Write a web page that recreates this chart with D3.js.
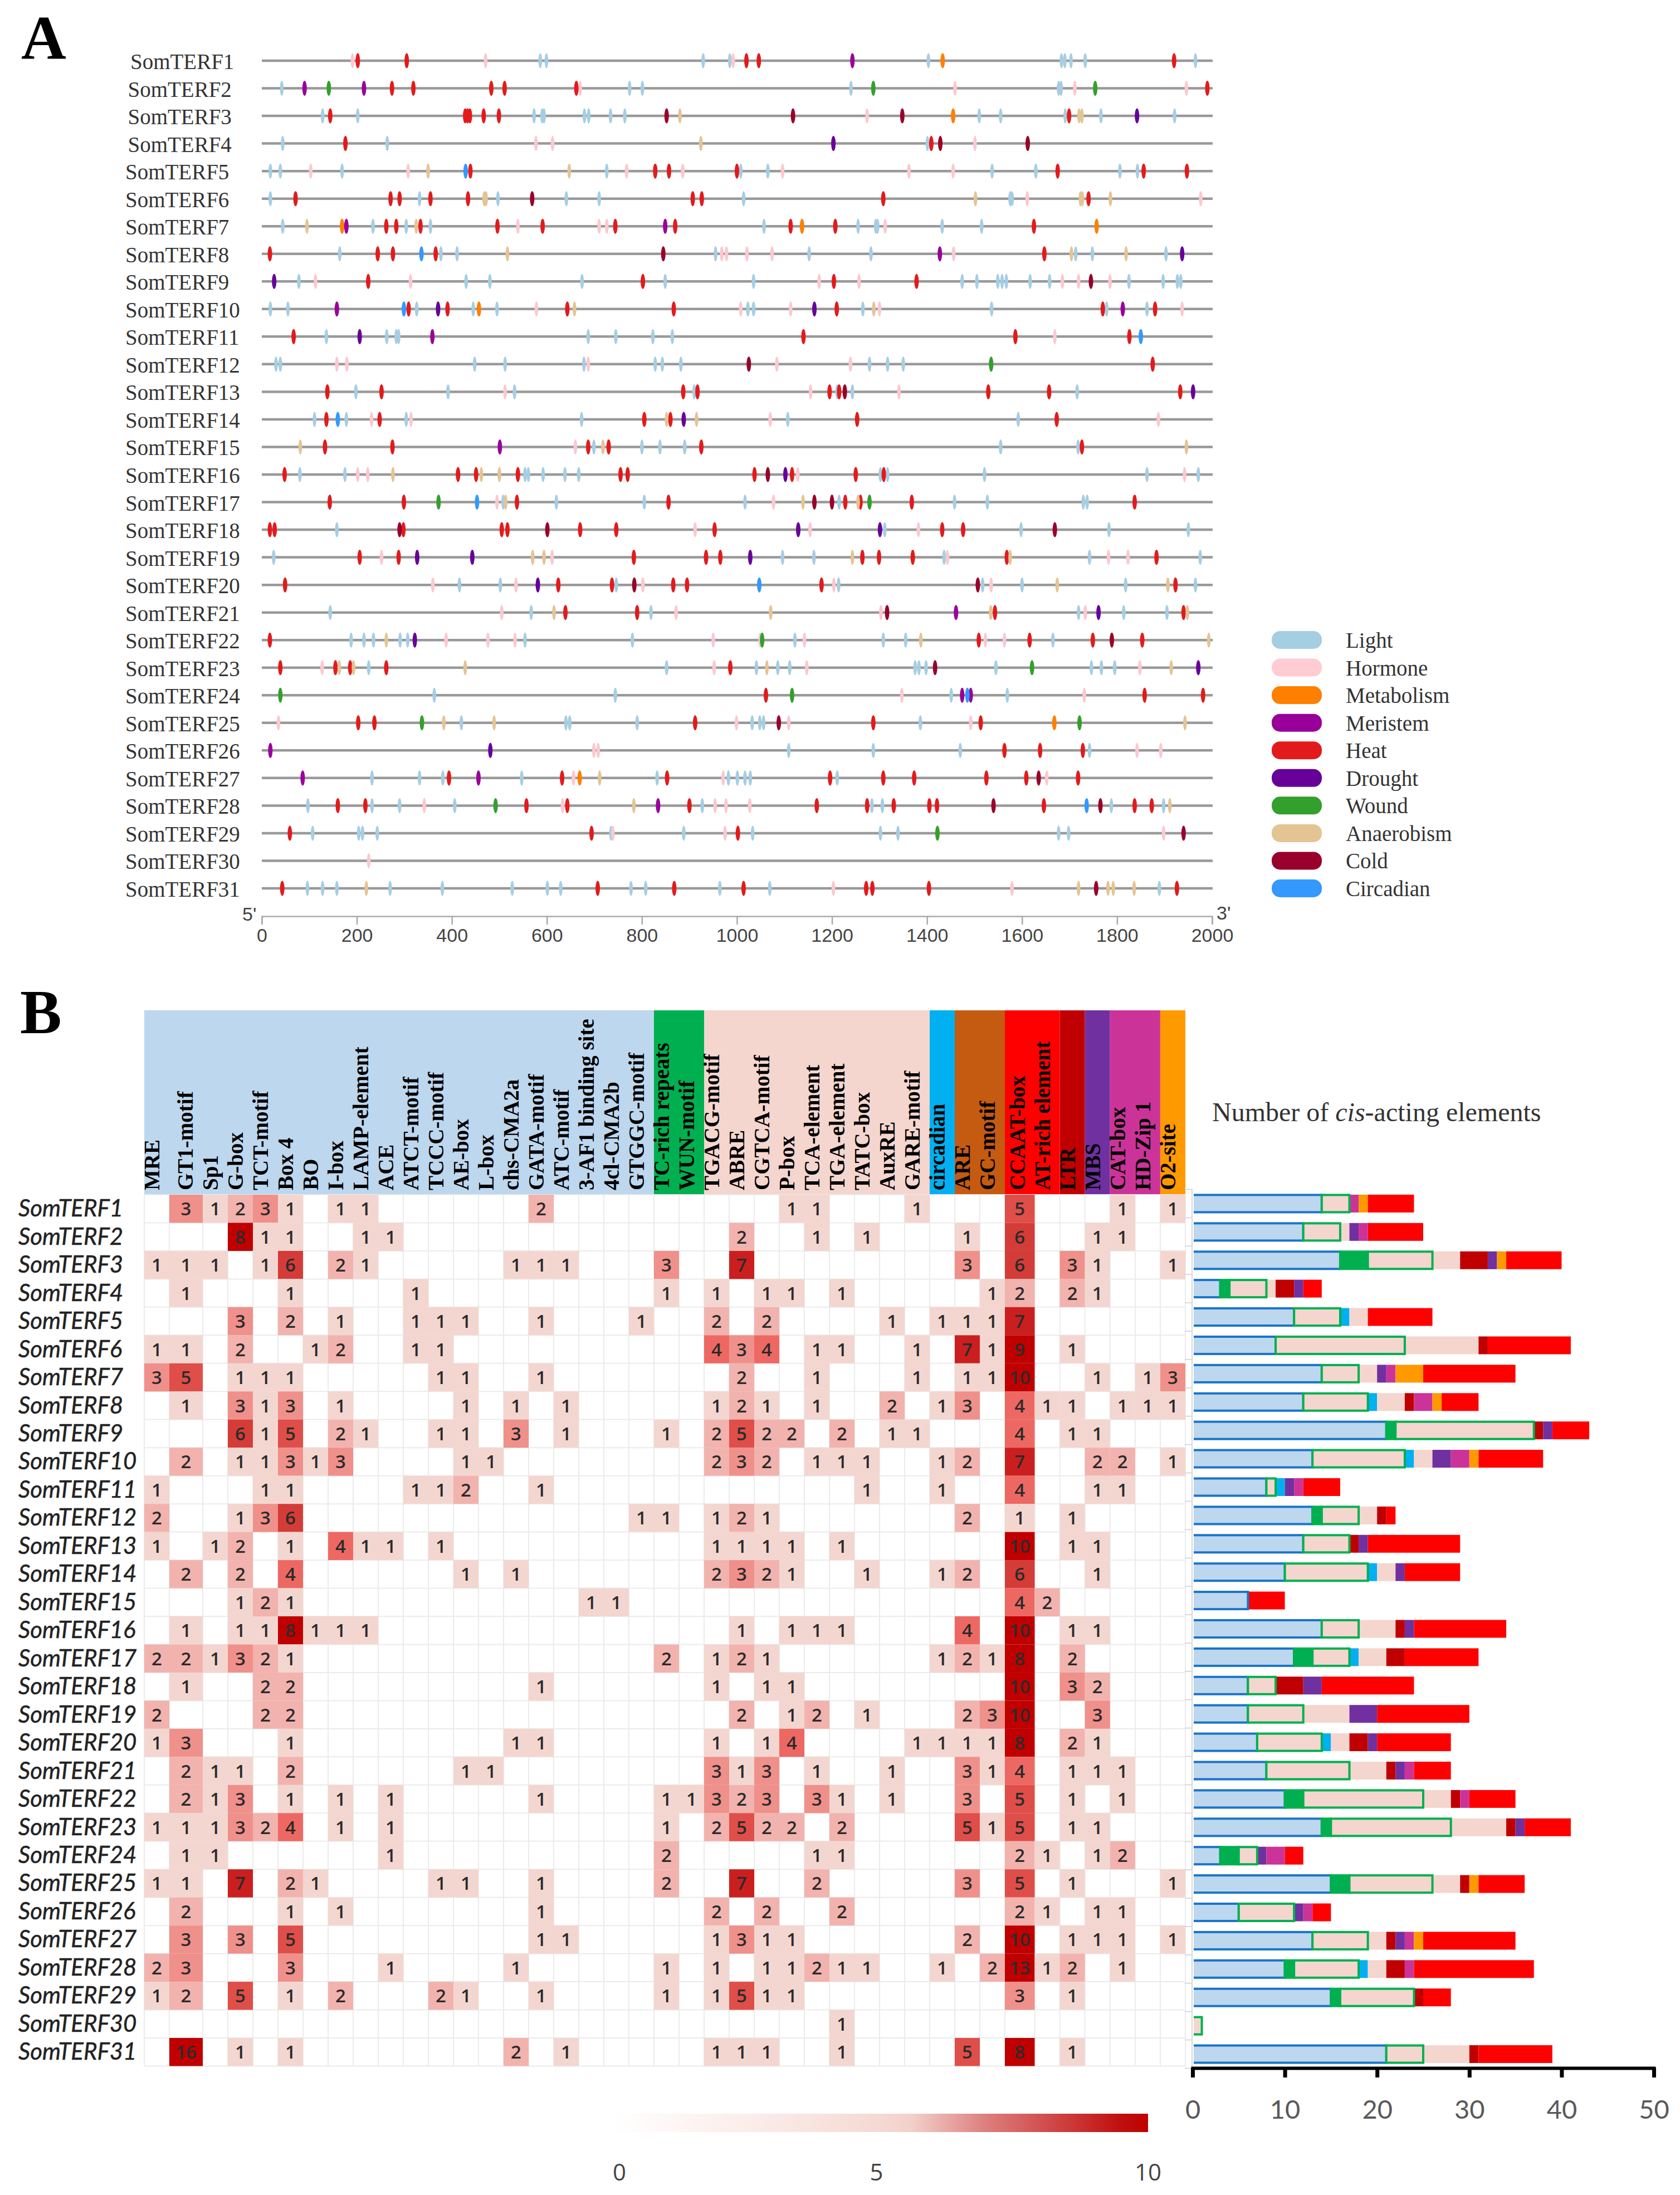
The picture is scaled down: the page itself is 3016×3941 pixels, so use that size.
<!DOCTYPE html>
<html><head><meta charset="utf-8">
<script src="https://cdn.jsdelivr.net/npm/d3@7"></script>
<style>html,body{margin:0;padding:0;background:#fff}svg{display:block}</style>
</head><body><svg id="c" width="3016" height="3941" viewBox="0 0 3016 3941"></svg>
<script>
const genes = d3.range(1,32).map(i=>"SomTERF"+i);

// Panel A: element kinds
const siteKinds = ["L","H","M","S","T","D","W","A","C","R"];
const siteNames = ["Light","Hormone","Metabolism","Meristem","Heat","Drought","Wound","Anaerobism","Cold","Circadian"];
const siteColors = ["#a6cee3","#fcc8d0","#ff7f00","#990099","#e31a1c","#660099","#33a02c","#e5c494","#99002b","#3399ff"];
const axisTicks = [0,200,400,600,800,1000,1200,1400,1600,1800,2000];

// Panel A: positions on the promoter, one entry per gene
const promoterSites = [
{L:[586,599,929,985,1403,1683,1690,1703,1733,1965],H:[191,471,992],M:[1433],S:[1243],T:[202,305,1020,1046,1920]},
{L:[42,774,801,1240,1677,1682],H:[670,1459,1711,1946],S:[90,215],T:[274,319,483,511,662,1990],W:[141,1287,1754]},
{L:[128,202,573,590,594,679,688,734,764,1510,1555,1691,1766,1921],H:[1274],M:[1455],T:[144,428,433,438,467,499,1699],A:[880,1720,1726],C:[852,1118,1348],D:[1842]},
{L:[44,264,1401],H:[577,612,1501],T:[176,1409],A:[924],C:[1428,1612],D:[1203]},
{L:[18,39,169,726,1008,1065,1537,1629,1806,1843],H:[103,308,768,886,1096,1362,1455],T:[439,828,857,1000,1675,1856,1947],A:[350,647],R:[429]},
{L:[18,332,497,641,710,1014,1575,1579],H:[1611,1976],T:[71,271,290,355,434,907,926,1308,1740],A:[468,472,1502,1723,1727,1786],C:[569]},
{L:[44,234,304,355,1057,1255,1292,1296,1432,1515],H:[539,710,726,1312],M:[169,1137,1757],S:[178,849],T:[262,283,334,496,591,744,870,1113,1207,1625],A:[95,325]},
{L:[164,377,411,955,1152,1282,1713,1748,1903],H:[968,978,1021,1074,1456],S:[1427],T:[17,244,276,366,1647],D:[1937],A:[517,1704,1819],C:[845],R:[336]},
{L:[78,430,480,674,849,1035,1474,1505,1549,1558,1567,1617,1658,1825,1897,1927,1934],H:[113,313,1173,1257,1685,1719,1785],T:[224,802,1204,1378],D:[26],C:[1745]},
{L:[18,55,326,445,495,1023,1035,1265,1536,1778,1863],H:[578,1008,1113,1300,1937],M:[457],S:[158,1812],D:[371,1163],T:[309,391,643,867,1210,1770,1880],A:[658,1288],R:[299]},
{L:[136,263,283,288,687,745,823,864],H:[1669],T:[67,1140,1586,1826],D:[206],S:[359],R:[1850]},
{L:[30,39,448,512,678,828,843,882,1279,1317,1350],H:[158,179,687,1084,1239],T:[1875],C:[1025],W:[1535]},
{L:[198,392,532,910,1211,1243,1716],H:[512,1155,1341],T:[138,252,887,917,1195,1215,1529,1657,1933],C:[1227],D:[1960]},
{L:[111,178,304,673,1107,1592],H:[231,314,1070,1887],T:[136,248,805,860,1253,1673],D:[888],A:[852,915],R:[160]},
{L:[699,800,838,890,1555,1718],H:[660],T:[133,275,687,730,925,1726],S:[501],A:[81,718,1946]},
{L:[80,175,554,561,592,638,667,1302,1317,1521,1863,1971],H:[202,223,1128,1942],T:[48,413,451,539,755,770,1037,1116,1250,1309],D:[1102],C:[1065],A:[276,462,500]},
{L:[508,620,805,1017,1215,1458,1527,1729,1737],H:[495,1077],T:[143,299,537,856,1228,1260,1368,1837],W:[372,1279],A:[513,1139,1255],C:[1163,1200],R:[453]},
{L:[158,1311,1598,1783,1950],H:[912,1154,1382],T:[17,27,298,505,517,670,746,953,1432,1476],C:[290,601,1669],D:[1129,1301]},
{L:[25,1096,1162,1436,1742,1975],H:[252,611,1443,1782,1823],T:[206,288,783,935,965,1264,1299,1370,1568,1883],D:[327,443,1028],A:[570,594,1243,1575]},
{L:[416,502,746,1214,1517,1600,1818,1965],H:[360,535,802,1204,1535],T:[49,624,737,866,895,1178,1923],D:[581],C:[784,1507],A:[1674,1907],R:[1047]},
{L:[144,567,819,1719,1814,1905],H:[505,872,1303,1733],S:[1461],T:[639,790,1543,1940],D:[1761],C:[1316],A:[615,1071,1534,1948]},
{L:[188,215,235,291,307,554,780,1122,1308,1355,1665],H:[388,476,533,950,1049,1142,1523,1563],T:[17,1509,1616,1749,1853],D:[322],W:[1053],C:[1789],A:[262,1387,1993]},
{L:[225,852,1041,1086,1111,1375,1383,1398,1545,1746,1767,1795],H:[127,952,1147,1848],T:[39,155,186,262,986],W:[1621],A:[163,193,428,1063,1914],C:[1417],D:[1971]},
{L:[363,744,1451,1569],H:[1347,1731],T:[1061,1858,1981],S:[1474,1492],W:[39,1116],R:[1485]},
{L:[420,640,648,790,1032,1048,1056,1386],H:[35,999,1109,1492],M:[1668],T:[203,237,912,1287,1513],W:[337,1721],A:[383,489,1943],C:[1088]},
{L:[1109,1287,1470,1742],H:[699,708,1842,1892],T:[1563,1638,1728],S:[18],D:[481]},
{L:[232,332,381,547,832,982,1001,1017,1028,1211],H:[656,971,1652],M:[669],S:[86,456],T:[394,632,853,1196,1308,1373,1525,1609,1718],C:[1635],A:[711]},
{L:[97,232,290,406,927,1284,1306,1788,1898],H:[342,633,954,977,1027],S:[834],T:[160,218,557,643,900,1168,1274,1330,1405,1421,1646,1837,1873],C:[1540,1765],W:[492],A:[783,1911],R:[1736]},
{L:[107,204,212,243,735,888,1033,1302,1339,1677,1698],H:[739,975,1898],T:[59,694,1002],W:[1422],C:[1940]},
{H:[225]},
{L:[96,128,158,270,380,527,601,629,777,808,964,1069,1889],H:[1203,1579],T:[43,707,868,1014,1272,1285,1404,1926],C:[1756],A:[220,1719,1781,1792,1836]}
];

// Panel B: motifs
const motifs = ["MRE","GT1-motif","Sp1","G-box","TCT-motif","Box 4","BO","I-box","LAMP-element","ACE","ATCT-motif","TCCC-motif","AE-box","L-box","chs-CMA2a","GATA-motif","ATC-motif","3-AF1 binding site","4cl-CMA2b","GTGGC-motif","TC-rich repeats","WUN-motif","TGACG-motif","ABRE","CGTCA-motif","P-box","TCA-element","TGA-element","TATC-box","AuxRE","GARE-motif","circadian","ARE","GC-motif","CCAAT-box","AT-rich element","LTR","MBS","CAT-box","HD-Zip 1","O2-site"];
const motifGroups = [
 {name:"light",from:0,to:20,color:"#bdd7ee"},
 {name:"wound",from:20,to:22,color:"#00b050"},
 {name:"hormone",from:22,to:31,color:"#f4d6cf"},
 {name:"circadian",from:31,to:32,color:"#00b0f0"},
 {name:"anaerobic",from:32,to:34,color:"#c55a11"},
 {name:"promoter",from:34,to:36,color:"#ff0000"},
 {name:"cold",from:36,to:37,color:"#c00000"},
 {name:"drought",from:37,to:38,color:"#7030a0"},
 {name:"meristem",from:38,to:40,color:"#cc3399"},
 {name:"oxygen",from:40,to:41,color:"#ff9900"}
];
// counts[gene][motif index]; empty cells are left out
const counts = [
{1:3,2:1,3:2,4:3,5:1,7:1,8:1,15:2,25:1,26:1,30:1,34:5,38:1,40:1},
{3:8,4:1,5:1,8:1,9:1,23:2,26:1,28:1,32:1,34:6,37:1,38:1},
{0:1,1:1,2:1,4:1,5:6,7:2,8:1,14:1,15:1,16:1,20:3,23:7,32:3,34:6,36:3,37:1,40:1},
{1:1,5:1,10:1,20:1,22:1,24:1,25:1,27:1,33:1,34:2,36:2,37:1},
{3:3,5:2,7:1,10:1,11:1,12:1,15:1,19:1,22:2,24:2,29:1,31:1,32:1,33:1,34:7},
{0:1,1:1,3:2,6:1,7:2,10:1,11:1,22:4,23:3,24:4,26:1,27:1,30:1,32:7,33:1,34:9,36:1},
{0:3,1:5,3:1,4:1,5:1,11:1,12:1,15:1,23:2,26:1,30:1,32:1,33:1,34:10,37:1,39:1,40:3},
{1:1,3:3,4:1,5:3,7:1,12:1,14:1,16:1,22:1,23:2,24:1,26:1,29:2,31:1,32:3,34:4,35:1,36:1,38:1,39:1,40:1},
{3:6,4:1,5:5,7:2,8:1,11:1,12:1,14:3,16:1,20:1,22:2,23:5,24:2,25:2,27:2,29:1,30:1,34:4,36:1,37:1},
{1:2,3:1,4:1,5:3,6:1,7:3,12:1,13:1,22:2,23:3,24:2,26:1,27:1,28:1,31:1,32:2,34:7,37:2,38:2,40:1},
{0:1,4:1,5:1,10:1,11:1,12:2,15:1,28:1,31:1,34:4,37:1,38:1},
{0:2,3:1,4:3,5:6,19:1,20:1,22:1,23:2,24:1,32:2,34:1,36:1},
{0:1,2:1,3:2,5:1,7:4,8:1,9:1,11:1,22:1,23:1,24:1,25:1,27:1,34:10,36:1,37:1},
{1:2,3:2,5:4,12:1,14:1,22:2,23:3,24:2,25:1,28:1,31:1,32:2,34:6,37:1},
{3:1,4:2,5:1,17:1,18:1,34:4,35:2},
{1:1,3:1,4:1,5:8,6:1,7:1,8:1,23:1,25:1,26:1,27:1,32:4,34:10,36:1,37:1},
{0:2,1:2,2:1,3:3,4:2,5:1,20:2,22:1,23:2,24:1,31:1,32:2,33:1,34:8,36:2},
{1:1,4:2,5:2,15:1,22:1,24:1,25:1,34:10,36:3,37:2},
{0:2,4:2,5:2,23:2,25:1,26:2,28:1,32:2,33:3,34:10,37:3},
{0:1,1:3,5:1,14:1,15:1,22:1,24:1,25:4,30:1,31:1,32:1,33:1,34:8,36:2,37:1},
{1:2,2:1,3:1,5:2,12:1,13:1,22:3,23:1,24:3,26:1,29:1,32:3,33:1,34:4,36:1,37:1,38:1},
{1:2,2:1,3:3,5:1,7:1,9:1,15:1,20:1,21:1,22:3,23:2,24:3,26:3,27:1,29:1,32:3,34:5,36:1,38:1},
{0:1,1:1,2:1,3:3,4:2,5:4,7:1,9:1,20:1,22:2,23:5,24:2,25:2,27:2,32:5,33:1,34:5,36:1,37:1},
{1:1,2:1,9:1,20:2,26:1,27:1,34:2,35:1,37:1,38:2},
{0:1,1:1,3:7,5:2,6:1,11:1,12:1,15:1,20:2,23:7,26:2,32:3,34:5,36:1,40:1},
{1:2,5:1,7:1,15:1,22:2,24:2,27:2,34:2,35:1,37:1,38:1},
{1:3,3:3,5:5,15:1,16:1,22:1,23:3,24:1,25:1,32:2,34:10,36:1,37:1,38:1,40:1},
{0:2,1:3,5:3,9:1,14:1,20:1,22:1,24:1,25:1,26:2,27:1,28:1,31:1,33:2,34:13,35:1,36:2,38:1},
{0:1,1:2,3:5,5:1,7:2,11:2,12:1,15:1,20:1,22:1,23:5,24:1,25:1,34:3,36:1},
{27:1},
{1:16,3:1,5:1,14:2,16:1,22:1,23:1,24:1,27:1,32:5,34:8,36:1}
];
// Panel B bar segments: motif index ranges summed per gene (AT-rich is not counted in the bars)
const barSegments = [
 {key:"light",from:0,to:20,fill:"#bdd7ee",stroke:"#1a75c9"},
 {key:"wound",from:20,to:22,fill:"#00b050",stroke:"#00b050"},
 {key:"hormone",from:22,to:31,fill:"#f4d6cf",stroke:"#00b050"},
 {key:"circadian",from:31,to:32,fill:"#00b0f0"},
 {key:"anaerobic",from:32,to:34,fill:"#f4d6cf"},
 {key:"cold",from:36,to:37,fill:"#c00000"},
 {key:"drought",from:37,to:38,fill:"#7030a0"},
 {key:"meristem",from:38,to:40,fill:"#cc3399"},
 {key:"oxygen",from:40,to:41,fill:"#ff9900"},
 {key:"ccaat",from:34,to:35,fill:"#ff0000"}
];
const barTicks = [0,10,20,30,40,50];
const heatLegendTicks = [0,5,10];

const svg = d3.select("#c");
const serif = "'Liberation Serif','Times New Roman',serif";
const lato = "Lato,sans-serif";
const sans = "'Open Sans',sans-serif";

svg.append("text").attr("x",38).attr("y",106).attr("font-family",serif).attr("font-weight",700).attr("font-size",112).attr("fill","#000").text("A");
svg.append("text").attr("x",36).attr("y",1855).attr("font-family",serif).attr("font-weight",700).attr("font-size",112).attr("fill","#000").text("B");

// ---------- Panel A ----------
const xA = d3.scaleLinear().domain([0,2000]).range([470,2176]);
const yA = d3.scalePoint().domain(genes).range([109,1595]);
const colorA = d3.scaleOrdinal().domain(siteKinds).range(siteColors);
const gA = svg.append("g");
const rowsA = gA.selectAll("g.row").data(genes).join("g").attr("class","row")
  .attr("transform",d=>`translate(0,${yA(d)})`);
rowsA.append("text")
  .attr("x",(d,i)=>i<1?234:i<4?229.5:225).attr("y",15)
  .attr("font-family",serif).attr("font-size",39).attr("fill","#333").text(d=>d);
rowsA.append("line").attr("x1",xA(0)).attr("x2",xA(2000)+1).attr("stroke","#999").attr("stroke-width",4.5);
rowsA.each(function(d,i){
  const list = siteKinds.flatMap(k=>(promoterSites[i][k]||[]).map(v=>({k,v})));
  d3.select(this).selectAll("ellipse").data(list).join("ellipse")
    .attr("cx",s=>xA(s.v)).attr("cy",0).attr("rx",s=>s.k==="L"||s.k==="H"||s.k==="A"?3.3:4).attr("ry",13.5)
    .attr("fill",s=>colorA(s.k));
});
const axisA = gA.append("g").attr("transform","translate(0,1645)")
  .call(d3.axisBottom(xA).tickValues(axisTicks).tickSize(15).tickPadding(7).tickFormat(d3.format("d")));
axisA.select(".domain").attr("stroke","#aaa").attr("stroke-width",2.5);
axisA.selectAll(".tick line").attr("stroke","#aaa").attr("stroke-width",2.5);
axisA.selectAll("text").attr("font-family","'Liberation Sans',Arial,sans-serif").attr("font-size",34).attr("fill","#444");
gA.append("text").attr("x",435).attr("y",1653).attr("font-family","'Liberation Sans',Arial,sans-serif").attr("font-size",34).attr("fill","#444").text("5'");
gA.append("text").attr("x",2184).attr("y",1651).attr("font-family","'Liberation Sans',Arial,sans-serif").attr("font-size",34).attr("fill","#444").text("3'");

const yLeg = d3.scalePoint().domain(siteNames).range([1149,1595]);
const leg = gA.selectAll("g.leg").data(siteNames).join("g").attr("class","leg").attr("transform",d=>`translate(2283,${yLeg(d)})`);
leg.append("rect").attr("x",0).attr("y",-16).attr("width",90).attr("height",32).attr("rx",15)
  .attr("fill",(d,i)=>siteColors[i]==="#fcc8d0"?"#ffccd3":siteColors[i]);
leg.append("text").attr("x",133).attr("y",14).attr("font-family",serif).attr("font-size",39).attr("fill","#333").text(d=>d);

// ---------- Panel B: heatmap ----------
const xB = d3.scaleLinear().domain([0,1,2,34,35,41]).range([259,304,364,1804,1857.5,2128]);
const headTop = 1814, headBottom = 2145, gridBottom = 3709.5;
const yB = d3.scaleBand().domain(genes).range([headBottom,gridBottom]);
const heatColor = d3.scaleLinear().domain([0,1,2,3,4,5,6,7,8,16])
  .range(["#ffffff","#f4d6d0","#f2b3ae","#f0908b","#ee6863","#e04e49","#d43c38","#cb1f1f","#c00000","#c00000"]);
const gB = svg.append("g");
gB.selectAll("rect.band").data(motifGroups).join("rect").attr("class","band")
  .attr("x",d=>xB(d.from)).attr("width",d=>xB(d.to)-xB(d.from))
  .attr("y",headTop).attr("height",headBottom-headTop).attr("fill",d=>d.color);
// grid
gB.selectAll("line.gv").data(d3.range(0,42)).join("line").attr("class","gv")
  .attr("x1",d=>xB(d)).attr("x2",d=>xB(d)).attr("y1",headBottom).attr("y2",gridBottom)
  .attr("stroke","#ebebeb").attr("stroke-width",2);
gB.selectAll("line.gh").data(d3.range(0,32)).join("line").attr("class","gh")
  .attr("x1",xB(0)).attr("x2",xB(41)).attr("y1",d=>headBottom+d*yB.step()).attr("y2",d=>headBottom+d*yB.step())
  .attr("stroke","#ebebeb").attr("stroke-width",2);
// header text
gB.selectAll("text.motif").data(motifs).join("text").attr("class","motif")
  .attr("transform",(d,i)=>{const w=xB(i+1)-xB(i);return `translate(${xB(i)+w/2+w/2-18},2137) rotate(-90)`;})
  .attr("font-family",serif).attr("font-weight",700).attr("font-size",39).attr("fill","#000").text(d=>d);
// row labels
gB.selectAll("text.gene").data(genes).join("text").attr("class","gene")
  .attr("x",33).attr("y",d=>yB(d)+yB.bandwidth()/2+14)
  .attr("font-family",lato).attr("font-style","italic").attr("font-size",42).attr("fill","#222")
  .attr("stroke","#222").attr("stroke-width",0.5).text(d=>d);
// cells
const cells = counts.flatMap((row,r)=>Object.keys(row).map(k=>({r,c:+k,v:row[k]})));
gB.selectAll("rect.cell").data(cells).join("rect").attr("class","cell")
  .attr("x",d=>xB(d.c)).attr("width",d=>xB(d.c+1)-xB(d.c))
  .attr("y",d=>yB(genes[d.r])).attr("height",yB.bandwidth())
  .attr("fill",d=>heatColor(d.v));
gB.selectAll("text.val").data(cells).join("text").attr("class","val")
  .attr("x",d=>(xB(d.c)+xB(d.c+1))/2).attr("y",d=>yB(genes[d.r])+yB.bandwidth()/2+12)
  .attr("text-anchor","middle").attr("font-family",sans).attr("font-weight",600).attr("font-size",33).attr("fill","#2b2b2b").text(d=>d.v);

// colour legend
const legScale = d3.scaleLinear().domain([0,10]).range([1112,2061]);
const defs = svg.append("defs");
const grad = defs.append("linearGradient").attr("id","heatGrad");
[[0,"#ffffff"],[.3,"#faeae7"],[.5,"#f5d9d3"],[.56,"#f3d0ca"],[.7,"#dc7e7c"],[.85,"#cd3b3b"],[.95,"#c00f0f"],[1,"#c00000"]]
 .forEach(([o,c])=>grad.append("stop").attr("offset",o).attr("stop-color",c));
gB.append("rect").attr("x",1096).attr("y",3795).attr("width",965).attr("height",33).attr("fill","url(#heatGrad)");
gB.selectAll("text.lt").data(heatLegendTicks).join("text").attr("class","lt")
  .attr("x",d=>d===5?1573.5:legScale(d)).attr("y",3915).attr("text-anchor","middle")
  .attr("font-family",sans).attr("font-size",42).attr("fill","#444").text(d=>d);

// ---------- Panel B: stacked bars ----------
const xBar = d3.scaleLinear().domain([0,50]).range([2141,2969]);
const yBar = d3.scaleBand().domain(genes).range([2135.5,3713.5]);
const barRows = counts.map((row,i)=>{
  const o = {gene:genes[i]};
  barSegments.forEach(s=>{o[s.key]=d3.sum(d3.range(s.from,s.to),k=>row[k]||0);});
  return o;
});
const series = d3.stack().keys(barSegments.map(s=>s.key))(barRows);
const gBar = svg.append("g");
defs.append("clipPath").attr("id","barClip").append("rect").attr("x",2143).attr("y",2100).attr("width",860).attr("height",1700);
// axis bracket
gBar.append("line").attr("x1",2140).attr("x2",2140).attr("y1",2135).attr("y2",3713).attr("stroke","#d9d9d9").attr("stroke-width",2);
gBar.selectAll("line.bt").data(d3.range(0,32)).join("line").attr("class","bt")
  .attr("x1",2127).attr("x2",2140).attr("y1",d=>2135.5+d*yBar.step()).attr("y2",d=>2135.5+d*yBar.step())
  .attr("stroke","#d9d9d9").attr("stroke-width",2);
const barPlot = gBar.append("g").attr("clip-path","url(#barClip)");
const order = [3,4,5,6,7,8,9,0,1,2]; // outlined parts are painted last
order.forEach(si=>{
  const s = series[si], def = barSegments[si];
  barPlot.selectAll("rect.s"+si).data(s.filter(d=>d[1]>d[0])).join("rect").attr("class","s"+si)
    .attr("x",d=>xBar(d[0])).attr("width",d=>xBar(d[1])-xBar(d[0]))
    .attr("y",d=>yBar(d.data.gene)+yBar.bandwidth()/2-(def.stroke?15.5:16))
    .attr("height",def.stroke?31:32)
    .attr("fill",def.fill)
    .attr("stroke",def.stroke||"none").attr("stroke-width",def.stroke?4:0);
});
const axisBar = gBar.append("g").attr("transform","translate(0,3713)")
  .call(d3.axisBottom(xBar).tickValues(barTicks).tickSize(17).tickPadding(41).tickFormat(d3.format("d")));
axisBar.select(".domain").attr("stroke","#000").attr("stroke-width",6);
axisBar.selectAll(".tick line").attr("stroke","#000").attr("stroke-width",7);
axisBar.selectAll("text").attr("font-family",lato).attr("font-size",47).attr("fill","#595959");

const title = gBar.append("text").attr("x",2176).attr("y",2013).attr("font-family",serif).attr("font-size",48).attr("fill","#333");
title.append("tspan").text("Number of ");
title.append("tspan").attr("font-style","italic").text("cis");
title.append("tspan").text("-acting elements");
</script></body></html>
